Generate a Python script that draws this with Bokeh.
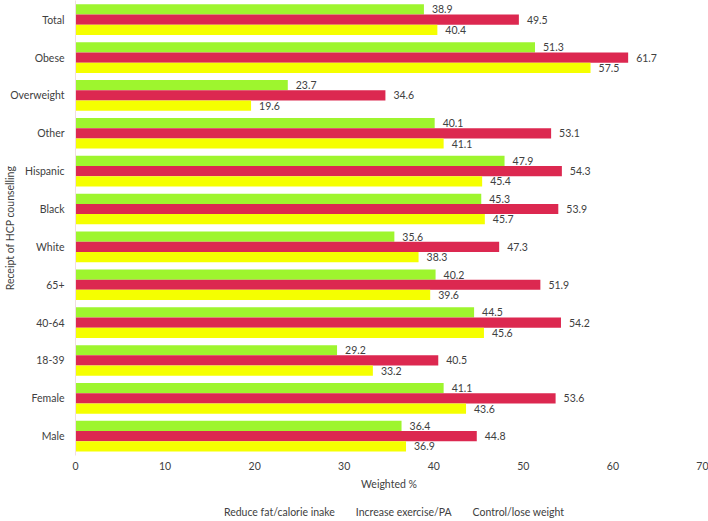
from bokeh.plotting import figure
from bokeh.layouts import column
from bokeh.models import (ColumnDataSource, Range1d, FixedTicker, Legend, LegendItem,
                          CDSView, IndexFilter)
from bokeh.transform import dodge
from bokeh.embed import file_html
from bokeh.resources import INLINE
from bokeh.core.properties import value

# ---- data (bottom to top) ----
categories = ["Male", "Female", "18-39", "40-64", "65+", "White", "Black",
              "Hispanic", "Other", "Overweight", "Obese", "Total"]
reduce_fat = [36.4, 41.1, 29.2, 44.5, 40.2, 35.6, 45.3, 47.9, 40.1, 23.7, 51.3, 38.9]
increase_exercise = [44.8, 53.6, 40.5, 54.2, 51.9, 47.3, 53.9, 54.3, 53.1, 34.6, 61.7, 49.5]
lose_weight = [36.9, 43.6, 33.2, 45.6, 39.6, 38.3, 45.7, 45.4, 41.1, 19.6, 57.5, 40.4]
series_names = ["Reduce fat/calorie inake", "Increase exercise/PA", "Control/lose weight"]
x_ticks = [0, 10, 20, 30, 40, 50, 60, 70]

FONT = "Lato"
FS = "10.5px"
TXT = "#404040"
colors = ["#9ef52e", "#dc2850", "#f5ff00"]
BAR_H = 0.27
offsets = [BAR_H, 0.0, -BAR_H]

p = figure(width=708, height=500,
           x_range=Range1d(0, 70), y_range=Range1d(-0.51, 11.507),
           output_backend="svg", toolbar_location=None,
           min_border_left=75, min_border_right=6,
           min_border_top=0, min_border_bottom=45)

# ---- legend strip (separate small figure holding the legend) ----
lg = figure(width=708, height=21, x_range=Range1d(0, 70), y_range=Range1d(-0.51, 11.507),
            output_backend="svg", toolbar_location=None,
            x_axis_location=None, y_axis_location=None,
            min_border_left=0, min_border_right=0,
            min_border_top=0, min_border_bottom=0)
lg.xgrid.grid_line_color = None
lg.ygrid.grid_line_color = None
lg.outline_line_color = None

items = []
for vals, name, col, off in zip([reduce_fat, increase_exercise, lose_weight],
                                series_names, colors, offsets):
    src = ColumnDataSource(dict(y=list(range(len(categories))), v=vals,
                                lab=[f"{x:.1f}" for x in vals]))
    p.hbar(y=dodge("y", off), right="v", left=0, height=BAR_H,
           source=src, fill_color=col, line_color=None)
    p.text(x="v", y=dodge("y", off), text="lab", source=src, x_offset=8,
           text_baseline="middle", text_align="left",
           text_font=value(FONT), text_font_size=FS, text_color=TXT)
    # twin glyph in the legend strip: all rows filtered out, used only for the swatch
    r = lg.hbar(y="y", right="v", left=0, height=BAR_H, source=src,
                view=CDSView(filter=IndexFilter(indices=[])),
                fill_color=col, line_color=None)
    items.append(LegendItem(label=name, renderers=[r]))

# axes
p.xaxis.ticker = FixedTicker(ticks=x_ticks)
p.xaxis.axis_line_color = None
p.xaxis.major_tick_line_color = None
p.xaxis.major_tick_out = 0
p.xaxis.minor_tick_line_color = None
p.xaxis.minor_tick_out = 0
p.xaxis.major_label_standoff = 6
p.xaxis.axis_label = "Weighted %"
p.xaxis.axis_label_standoff = 5
p.xaxis.axis_label_text_font_style = "normal"
p.xaxis.axis_label_text_font = FONT
p.xaxis.axis_label_text_font_size = FS
p.xaxis.axis_label_text_color = TXT
p.xaxis.major_label_text_font = FONT
p.xaxis.major_label_text_font_size = FS
p.xaxis.major_label_text_color = TXT

p.yaxis.ticker = FixedTicker(ticks=list(range(len(categories))))
p.yaxis.major_label_overrides = {i: c for i, c in enumerate(categories)}
p.yaxis.axis_line_color = "#f0dde2"
p.yaxis.major_tick_line_color = None
p.yaxis.major_tick_out = 0
p.yaxis.minor_tick_line_color = None
p.yaxis.minor_tick_out = 0
p.yaxis.major_label_standoff = 11
p.yaxis.major_label_text_font = FONT
p.yaxis.major_label_text_font_size = FS
p.yaxis.major_label_text_color = TXT
p.yaxis.axis_label = "Receipt of HCP counselling"
p.yaxis.axis_label_standoff = -9
p.yaxis.axis_label_text_font_style = "normal"
p.yaxis.axis_label_text_font = FONT
p.yaxis.axis_label_text_font_size = FS
p.yaxis.axis_label_text_color = TXT

p.xgrid.grid_line_color = None
p.ygrid.grid_line_color = None
p.outline_line_color = None

legend = Legend(items=items, orientation="horizontal", location="bottom",
                glyph_width=7, glyph_height=7, label_height=7,
                label_standoff=4, spacing=10, padding=0, margin=3,
                border_line_color=None, background_fill_alpha=0,
                label_text_font=FONT, label_text_font_size=FS,
                label_text_color=TXT)
lg.add_layout(legend, "center")

layout = column(p, lg, spacing=0)
open("out.html", "w").write(file_html(layout, INLINE))
